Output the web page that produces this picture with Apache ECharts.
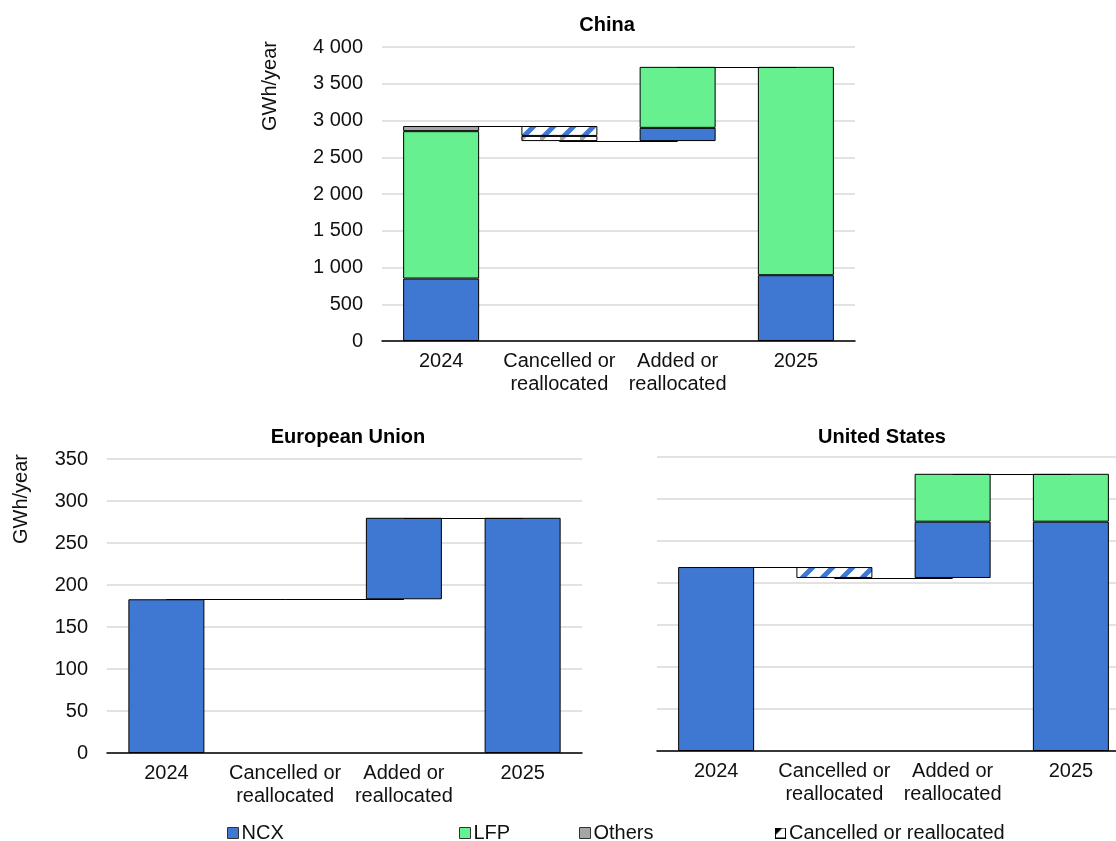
<!DOCTYPE html>
<html>
<head>
<meta charset="utf-8">
<script src="https://cdn.jsdelivr.net/npm/echarts@6/dist/echarts.min.js"></script>
<style>
  html, body { margin: 0; padding: 0; background: #fff; }
  #main { width: 1116px; height: 841px; }
</style>
</head>
<body>
<div id="main"></div>
<script>
// categories, shared by the three panels
var categories = ['2024', 'Cancelled or\nreallocated', 'Added or\nreallocated', '2025'];

// China (GWh/year)
var chinaNCX = [850, null, 180, 895];
var chinaLFP = [2005, null, 830, 2835];
var chinaOthers = [70, null, null, null];
var chinaCancelNCX = [null, 135, null, null];
var chinaCancelOthers = [null, 70, null, null];

// European Union
var euNCX = [183, null, 97, 280];
var euLFP = [null, null, null, null];
var euOthers = [null, null, null, null];
var euCancelNCX = [null, null, null, null];
var euCancelOthers = [null, null, null, null];

// United States
var usNCX = [219, null, 67, 273];
var usLFP = [null, null, 57, 57];
var usOthers = [null, null, null, null];
var usCancelNCX = [null, 13, null, null];
var usCancelOthers = [null, null, null, null];

var FONT = '"Liberation Sans", Arial, sans-serif';
var BLUE = '#3f78d3';
var GREEN = '#66f08f';
var GREY = '#a6a6a6';

// hatch fill for cancelled capacity
function hatch(color) {
  var c = document.createElement('canvas');
  c.width = 20; c.height = 20;
  var ctx = c.getContext('2d');
  ctx.fillStyle = '#fff';
  ctx.fillRect(0, 0, 20, 20);
  ctx.strokeStyle = color;
  ctx.lineWidth = 5;
  ctx.beginPath();
  ctx.moveTo(-5, 25); ctx.lineTo(25, -5);
  ctx.stroke();
  return c;
}

function cancelIcon() {
  var c = document.createElement('canvas');
  c.width = 11; c.height = 11;
  var ctx = c.getContext('2d');
  ctx.fillStyle = '#fff';
  ctx.fillRect(0, 0, 11, 11);
  ctx.fillStyle = '#000';
  ctx.beginPath();
  ctx.moveTo(0, 0); ctx.lineTo(8, 0); ctx.lineTo(0, 8); ctx.closePath();
  ctx.fill();
  ctx.strokeStyle = '#000';
  ctx.lineWidth = 1;
  ctx.strokeRect(0.5, 0.5, 10, 10);
  return c.toDataURL();
}

// builds the stacked waterfall series for one panel
function panel(idx, ncx, lfp, others, cNCX, cOthers) {
  var start = (ncx[0] || 0) + (lfp[0] || 0) + (others[0] || 0);
  var cancelled = (cNCX[1] || 0) + (cOthers[1] || 0);
  var afterCancel = start - cancelled;
  var added = (ncx[2] || 0) + (lfp[2] || 0) + (others[2] || 0);
  var end = afterCancel + added;
  var base = [0, afterCancel, afterCancel, 0];
  var stack = 's' + idx;
  var border = { borderColor: '#000', borderWidth: 1 };
  function bar(name, data, color) {
    return {
      name: name, type: 'bar', stack: stack, data: data,
      xAxisIndex: idx, yAxisIndex: idx, barWidth: 76,
      itemStyle: Object.assign({ color: color }, border)
    };
  }
  return [
    {
      name: 'base', type: 'bar', stack: stack, data: base,
      xAxisIndex: idx, yAxisIndex: idx, barWidth: 76,
      itemStyle: { color: 'transparent' }, silent: true,
      markLine: {
        silent: true, symbol: ['none', 'none'],
        label: { show: false },
        lineStyle: { color: '#000', width: 1, type: 'solid' },
        data: [
          [{ coord: [categories[0], start] }, { coord: [categories[1], start] }],
          [{ coord: [categories[1], afterCancel] }, { coord: [categories[2], afterCancel] }],
          [{ coord: [categories[2], end] }, { coord: [categories[3], end] }]
        ]
      }
    },
    bar('NCX', ncx, BLUE),
    bar('LFP', lfp, GREEN),
    bar('Others', others, GREY),
    bar('Cancelled others', cOthers, { image: hatch(GREY), repeat: 'repeat' }),
    bar('Cancelled or reallocated', cNCX, { image: hatch(BLUE), repeat: 'repeat' })
  ];
}

var grids = [
  { left: 382, width: 473, top: 47, height: 294, outerBoundsMode: 'none' },
  { left: 107, width: 475, top: 459, height: 294, outerBoundsMode: 'none' },
  { left: 657, width: 473, top: 457, height: 294, outerBoundsMode: 'none' }
];

var xAxes = grids.map(function (g, i) {
  return {
    type: 'category', gridIndex: i, data: categories,
    axisTick: { show: false },
    axisLine: { lineStyle: { color: '#000', width: 1.5 } },
    axisLabel: { interval: 0, color: '#111', fontFamily: FONT, fontSize: 20, lineHeight: 23, margin: 9 }
  };
});

var yAxes = [
  { max: 4000, interval: 500, show: true },
  { max: 350, interval: 50, show: true },
  { max: 350, interval: 50, show: false }
].map(function (a, i) {
  return {
    type: 'value', gridIndex: i, min: 0, max: a.max, interval: a.interval,
    axisLine: { show: false }, axisTick: { show: false },
    splitLine: { lineStyle: { color: '#d9d9d9', width: 1.5 } },
    axisLabel: {
      show: a.show, color: '#111', fontFamily: FONT, fontSize: 20, margin: 19,
      formatter: function (v) { return String(v).replace(/\B(?=(\d{3})+(?!\d))/g, ' '); }
    }
  };
});

function legendItem(name, left, icon) {
  var d = { name: name };
  if (icon) d.icon = icon;
  return {
    data: [d], left: left, top: 823, padding: 0, itemWidth: 11, itemHeight: 11, itemGap: 4,
    icon: 'rect', selectedMode: false,
    itemStyle: { borderColor: '#333', borderWidth: 1 },
    textStyle: { color: '#111', fontFamily: FONT, fontSize: 20, padding: [0, 0, 0, -2] }
  };
}

var titleStyle = { fill: '#000', font: 'bold 20px ' + FONT, align: 'center', verticalAlign: 'middle', textAlign: 'center', textVerticalAlign: 'middle' };
var nameStyle = { fill: '#111', font: '20px ' + FONT, align: 'center', verticalAlign: 'middle', textAlign: 'center', textVerticalAlign: 'middle' };

var option = {
  animation: false,
  grid: grids,
  xAxis: xAxes,
  yAxis: yAxes,
  legend: [
    legendItem('NCX', 227),
    legendItem('LFP', 459),
    legendItem('Others', 579),
    legendItem('Cancelled or reallocated', 775, 'image://' + cancelIcon())
  ],
  graphic: [
    { type: 'text', x: 607, y: 25, style: Object.assign({ text: 'China' }, titleStyle) },
    { type: 'text', x: 348, y: 437, style: Object.assign({ text: 'European Union' }, titleStyle) },
    { type: 'text', x: 882, y: 437, style: Object.assign({ text: 'United States' }, titleStyle) },
    { type: 'text', x: 270, y: 86, rotation: Math.PI / 2, style: Object.assign({ text: 'GWh/year' }, nameStyle) },
    { type: 'text', x: 21, y: 499, rotation: Math.PI / 2, style: Object.assign({ text: 'GWh/year' }, nameStyle) }
  ],
  series: [].concat(
    panel(0, chinaNCX, chinaLFP, chinaOthers, chinaCancelNCX, chinaCancelOthers),
    panel(1, euNCX, euLFP, euOthers, euCancelNCX, euCancelOthers),
    panel(2, usNCX, usLFP, usOthers, usCancelNCX, usCancelOthers)
  )
};

var myChart = echarts.init(document.getElementById('main'));
myChart.setOption(option);
</script>
</body>
</html>
